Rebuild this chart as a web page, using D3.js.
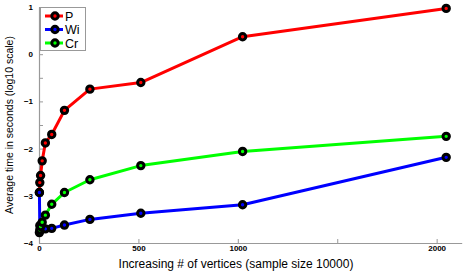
<!DOCTYPE html>
<html><head><meta charset="utf-8">
<script src="https://cdn.jsdelivr.net/npm/d3@7"></script>
<style>body{margin:0;background:#fff}svg{display:block}</style>
</head><body>
<script>
const vertices = [2,4,8,16,32,64,128,256,512,1024,2048];
const seriesNames = ["P","Wi","Cr"];
const P  = [-2.93,-2.72,-2.57,-2.26,-1.88,-1.70,-1.19,-0.74,-0.60,0.37,0.97];
const Wi = [-2.93,-3.63,-3.68,-3.70,-3.70,-3.69,-3.62,-3.50,-3.37,-3.19,-2.185];
const Cr = [-3.78,-3.72,-3.65,-3.56,-3.41,-3.18,-2.93,-2.66,-2.36,-2.06,-1.74];
const colors = ["#ff0000","#0000ff","#00ff00"];
const xTicks = [0,500,1000,1500,2000];
const xTickLabels = ["0","500","1000","","2000"];
const yTicks = [-4,-3.5,-3,-2.5,-2,-1.5,-1,-0.5,0,0.5,1];

const W=463,H=273;
const svg=d3.select("body").append("svg").attr("width",W).attr("height",H);
const x=d3.scaleLinear().domain([0,2126]).range([39,461.7]);
const y=d3.scaleLinear().domain([-4,1]).range([243,7]);

// axes
const xAxis=d3.axisBottom(x).tickValues(xTicks).tickSizeInner(-4).tickSizeOuter(0)
  .tickFormat((d,i)=>xTickLabels[i]).tickPadding(4);
const gx=svg.append("g").attr("transform",`translate(0,${y(-4)})`).call(xAxis);
const yAxis=d3.axisLeft(y).tickValues(yTicks).tickSizeInner(-4).tickSizeOuter(0)
  .tickFormat(d=>Number.isInteger(d)?d3.format("")(d):"").tickPadding(5);
const gy=svg.append("g").attr("transform",`translate(${x(0)},0)`).call(yAxis);
[gx,gy].forEach(g=>{
  g.select(".domain").attr("stroke","#999").attr("stroke-width",1.2);
  g.selectAll(".tick line").attr("stroke","#999");
  g.selectAll(".tick text").attr("fill","#000").style("font-family","Liberation Sans, Arial, sans-serif")
   .style("font-size","8px").style("font-weight","bold");
});
gy.selectAll(".tick text").attr("dx","-1");
gx.selectAll(".tick text").attr("dy","0.5em");

// lines + markers
const all=[P,Wi,Cr];
const line=d3.line().x((d,i)=>x(vertices[i])).y(d=>y(d));
all.forEach((s,k)=>{
  svg.append("path").datum(s).attr("d",line).attr("fill","none")
    .attr("stroke",colors[k]).attr("stroke-width",3).attr("stroke-linejoin","round");
  svg.append("g").selectAll("circle").data(s).join("circle")
    .attr("cx",(d,i)=>x(vertices[i])).attr("cy",d=>y(d)).attr("r",3.2)
    .attr("fill",colors[k]).attr("stroke","#000").attr("stroke-width",3);
});

// legend
const lg=svg.append("g");
lg.append("rect").attr("x",40.5).attr("y",7.5).attr("width",45).attr("height",43)
  .attr("fill","#fff").attr("stroke","#999");
seriesNames.forEach((n,k)=>{
  const yy=16+k*13.5;
  lg.append("line").attr("x1",45).attr("x2",63).attr("y1",yy).attr("y2",yy)
    .attr("stroke",colors[k]).attr("stroke-width",3);
  lg.append("circle").attr("cx",55).attr("cy",yy).attr("r",3.2)
    .attr("fill",colors[k]).attr("stroke","#000").attr("stroke-width",3);
  lg.append("text").attr("x",65).attr("y",yy+4.5).text(n)
    .style("font-family","Liberation Sans, Arial, sans-serif").style("font-size","12.5px");
});

// titles
svg.append("text").attr("x",236).attr("y",268).attr("text-anchor","middle")
  .style("font-family","Liberation Sans, Arial, sans-serif").style("font-size","12px")
  .text("Increasing # of vertices (sample size 10000)");
svg.append("text").attr("transform","translate(13,125) rotate(-90)").attr("text-anchor","middle")
  .style("font-family","Liberation Sans, Arial, sans-serif").style("font-size","10.5px")
  .text("Average time in seconds (log10 scale)");
</script>
</body></html>
